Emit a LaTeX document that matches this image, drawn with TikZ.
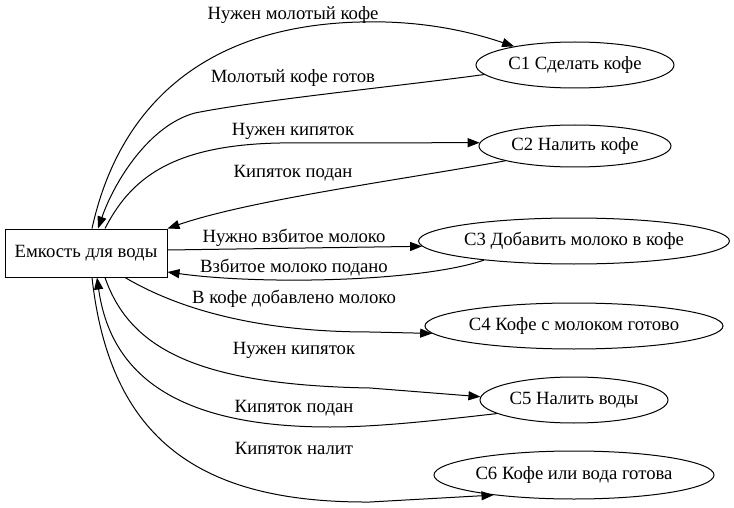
\documentclass[tikz,border=0pt]{standalone}
\usepackage{fontspec}
\setmainfont{Liberation Serif}
\newfontfamily\diagfont{Liberation Serif}
\usetikzlibrary{shapes.geometric,arrows.meta}
\begin{document}
\begin{tikzpicture}[x=1pt,y=-1pt,
  every node/.style={font=\diagfont\fontsize{18.7}{22}\selectfont},
  box/.style={draw, line width=1pt, minimum width=162pt, minimum height=48pt, inner sep=0pt},
  ell/.style={draw, ellipse, line width=1pt, inner sep=0pt},
  lbl/.style={inner sep=0pt},
  conn/.style={line width=1pt, -{Triangle[length=12pt,width=9pt]}}]
\useasboundingbox (0,0) rectangle (734,508);
\node[box] (src) at (86,253) {Емкость для воды};
\node[ell, minimum width=198pt, minimum height=46pt] (c1) at (575,65) {C1 Сделать кофе};
\node[ell, minimum width=192pt, minimum height=42pt] (c2) at (575,146) {C2 Налить кофе};
\node[ell, minimum width=308pt, minimum height=46pt] (c3) at (574,241) {C3 Добавить молоко в кофе};
\node[ell, minimum width=298pt, minimum height=46pt] (c4) at (574,326) {C4 Кофе с молоком готово};
\node[ell, minimum width=188pt, minimum height=46pt] (c5) at (574,400) {C5 Налить воды};
\node[ell, minimum width=280pt, minimum height=48pt] (c6) at (574,475) {C6 Кофе или вода готова};

\node[lbl] (l1) at (293,15) {Нужен молотый кофе};
\node[lbl] (l2) at (293,78) {Молотый кофе готов};
\node[lbl] (l3) at (293,131) {Нужен кипяток};
\node[lbl] (l4) at (293,173) {Кипяток подан};
\node[lbl] (l5) at (294,238) {Нужно взбитое молоко};
\node[lbl] (l6) at (294,268) {Взбитое молоко подано};
\node[lbl] (l7) at (294,299) {В кофе добавлено молоко};
\node[lbl] (l8) at (294,350) {Нужен кипяток};
\node[lbl] (l9) at (294,408) {Кипяток подан};
\node[lbl] (l10) at (294,448) {Кипяток налит};

\draw[conn] ([xshift=6pt]src.north) .. controls (118,110) and (200,26) .. (360,22) .. controls (430,20) and (480,35) .. (c1.163);
\draw[conn] (c1.186) .. controls (400,86) and (260,100) .. (195,113) .. controls (150,125) and (115,180) .. ([xshift=12pt]src.north);
\draw[conn] ([xshift=19pt]src.north) .. controls (130,180) and (170,145) .. (280,143) -- (c2.178);
\draw[conn] (c2.192) .. controls (400,180) and (250,200) .. (src.north east);
\draw[conn] ([yshift=3pt]src.east) -- (c3.182);
\draw[conn] (c3.192) .. controls (420,282) and (260,285) .. ([yshift=-19pt]src.east);
\draw[conn] ([xshift=39pt]src.south) .. controls (180,310) and (260,332) .. (370,332) -- (c4.183);
\draw[conn] ([xshift=19pt]src.south) .. controls (130,350) and (200,385) .. (370,388) -- (c5.178);
\draw[conn] (c5.190) .. controls (440,420) and (380,427) .. (330,427) .. controls (170,427) and (110,370) .. ([xshift=11pt]src.south);
\draw[conn] ([xshift=6pt]src.south) .. controls (110,440) and (200,503) .. (370,502) -- (c6.194);
\end{tikzpicture}
\end{document}
